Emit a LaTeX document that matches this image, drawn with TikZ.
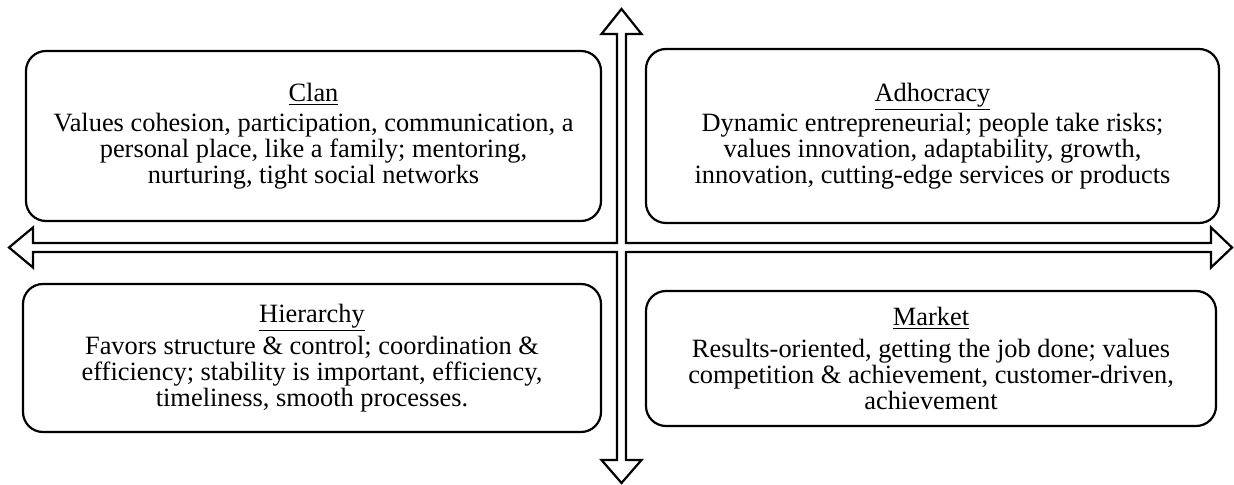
\documentclass[tikz,border=0pt]{standalone}
\usepackage{fontspec}
\setmainfont{Liberation Serif}

\begin{document}
\begin{tikzpicture}
[
    x=0.5pt, y=-0.5pt,
    quad/.style={draw, line width=1.1pt, rounded corners=10pt, align=center,
        inner sep=0pt, font=\fontsize{13.2}{13}\selectfont},
    axes/.style={draw, line width=1.1pt, line join=miter},
]
\useasboundingbox (0,0) rectangle (1234,485);
% the two axes as one outlined cross
\draw [axes] (621.5,9) -- (641.5,34) -- (626,34) -- (626,243)
    -- (1211,243) -- (1211,227.5) -- (1232,247.5) -- (1211,267.5) -- (1211,252)
    -- (626,252) -- (626,460) -- (641.5,460) -- (621.5,483) -- (601.5,460) -- (617,460)
    -- (617,252) -- (33,252) -- (33,267.5) -- (9,247.5) -- (33,227.5) -- (33,243)
    -- (617,243) -- (617,34) -- (601.5,34) -- cycle;
% quadrants
\node [quad, minimum width=287.5pt, minimum height=85pt] (clan) at (313.5,136)
{\underline{Clan}\\[2pt]
Values cohesion, participation, communication, a\\
personal place, like a family; mentoring,\\
nurturing, tight social networks};
\node [quad, minimum width=286.5pt, minimum height=87pt] (adhocracy) at (932.5,136)
{\underline{Adhocracy}\\
Dynamic entrepreneurial; people take risks;\\
values innovation, adaptability, growth,\\
innovation, cutting-edge services or products};
\node [quad, minimum width=289pt, minimum height=74pt] (hierarchy) at (312,358)
{\underline{Hierarchy}\\[1pt]
Favors structure \& control; coordination \&\\
efficiency; stability is important, efficiency,\\
timeliness, smooth processes.};
\node [quad, minimum width=285pt, minimum height=67.5pt] (market) at (931,358.5)
{\underline{Market}\\[3pt]
Results-oriented, getting the job done; values\\
competition \& achievement, customer-driven,\\
achievement};
\end{tikzpicture}
\end{document}
